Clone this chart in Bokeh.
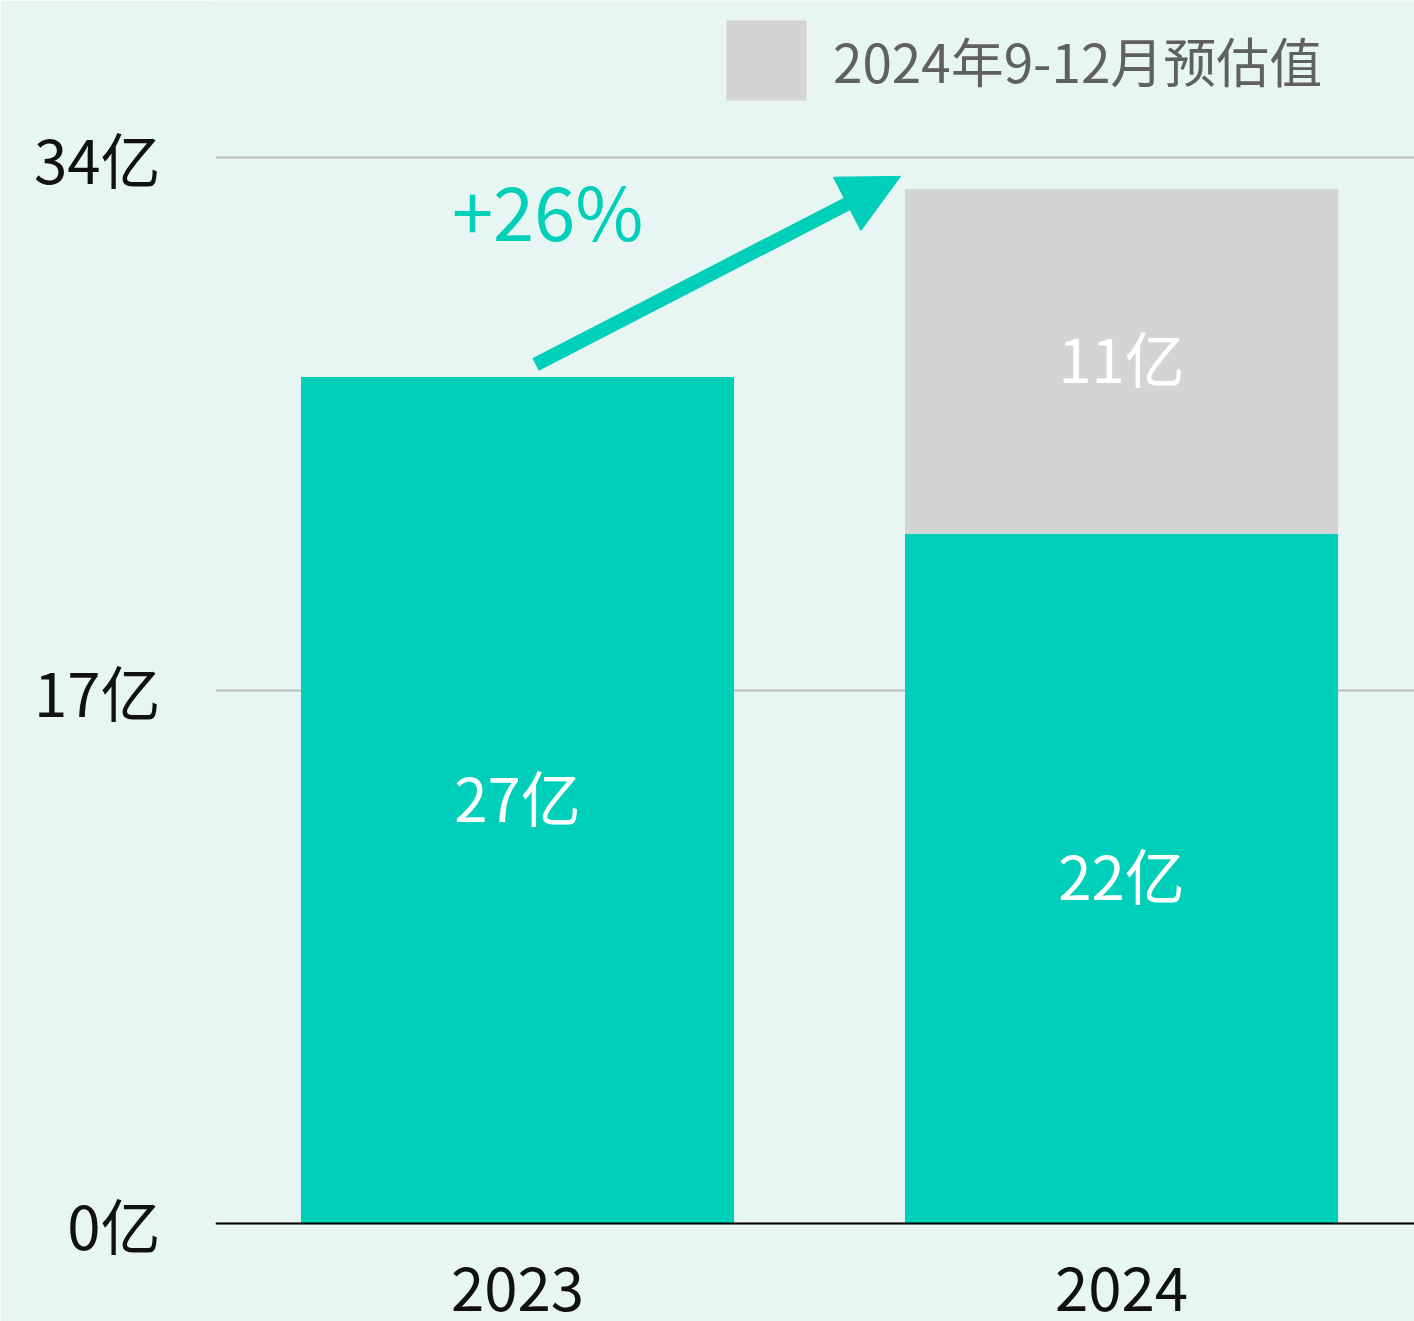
from bokeh.plotting import figure
from bokeh.models import (ColumnDataSource, Range1d, FixedTicker, Span, Arrow,
                          NormalHead, Legend, LegendItem)
from bokeh.core.properties import value
from bokeh.embed import file_html
from bokeh.resources import INLINE

# ---- data ----
categories = ["2023", "2024"]
actual = [27, 22]
estimate = [0, 11]
y_ticks = [0, 17, 34]
y_tick_labels = ["0亿", "17亿", "34亿"]
legend_label = "2024年9-12月预估值"
growth_label = "+26%"
unit = "亿"

TEAL = "#00CFB9"
GRAY = "#D4D4D4"
BG = "#E7F5F3"
FONT = "Noto Sans CJK SC"

xs = list(range(len(categories)))
source = ColumnDataSource(dict(x=xs, cat=categories, actual=actual, estimate=estimate))

p = figure(width=1414, height=1321, output_backend="svg", toolbar_location=None,
           x_range=Range1d(-0.5, 1.485), y_range=Range1d(-3.126, 39.01),
           min_border_left=215, min_border_right=0, min_border_top=0, min_border_bottom=0)
p.background_fill_color = BG
p.border_fill_color = BG
p.outline_line_color = None
p.xaxis.visible = False
p.xgrid.visible = False

yax = p.yaxis[0]
yax.ticker = FixedTicker(ticks=y_ticks)
yax.major_label_overrides = {t: l for t, l in zip(y_ticks, y_tick_labels)}
yax.axis_line_color = None
yax.major_tick_line_color = None
yax.minor_tick_line_color = None
yax.major_tick_out = 0
yax.major_tick_in = 0
yax.major_label_standoff = 55
yax.major_label_text_font = FONT
yax.major_label_text_font_size = "60px"
yax.major_label_text_color = "#111111"

p.ygrid.ticker = FixedTicker(ticks=y_ticks)
p.ygrid.grid_line_color = "#BDBDBD"
p.ygrid.grid_line_width = 2

rs = p.vbar_stack(["actual", "estimate"], x="x", width=0.717, color=[TEAL, GRAY],
                  line_color=None, source=source)

p.add_layout(Span(location=0, dimension="width", line_color="#000000", line_width=2))

# labels in bars
lx, ly, lt = [], [], []
for i in xs:
    if actual[i] > 0:
        lx.append(i); ly.append(actual[i] / 2); lt.append(f"{actual[i]}{unit}")
    if estimate[i] > 0:
        lx.append(i); ly.append(actual[i] + estimate[i] / 2); lt.append(f"{estimate[i]}{unit}")
p.text(x=lx, y=ly, text=lt, text_color="white", text_font=value(FONT),
       text_font_size="60px", text_align="center", text_baseline="middle", y_offset=-5)

# category labels below baseline
p.text(x=xs, y=[-2.2] * len(xs), text=categories, text_color="#111111", text_font=value(FONT),
       text_font_size="60px", text_align="center", text_baseline="middle", y_offset=-3)

# growth arrow
totals = [a + e for a, e in zip(actual, estimate)]
p.add_layout(Arrow(x_start=0.03, y_start=totals[0] + 0.4, x_end=0.634, y_end=totals[1] + 0.4,
                   line_color=TEAL, line_width=14,
                   end=NormalHead(size=60, fill_color=TEAL, line_color=TEAL, line_width=1)))
p.text(x=[0.05], y=[32.15], text=[growth_label], text_color=TEAL, text_font=value(FONT),
       text_font_size="74px", text_align="center", text_baseline="middle", y_offset=-7)

legend = Legend(items=[LegendItem(label=legend_label, renderers=[rs[1]])],
                location=(501, 1211), glyph_width=100, glyph_height=100,
                label_standoff=17, padding=0, margin=0, spacing=0,
                label_text_font=FONT, label_text_font_size="53px",
                label_text_color="#606060", background_fill_alpha=0,
                border_line_alpha=0)
p.add_layout(legend)

open("out.html", "w").write(file_html(p, INLINE))
